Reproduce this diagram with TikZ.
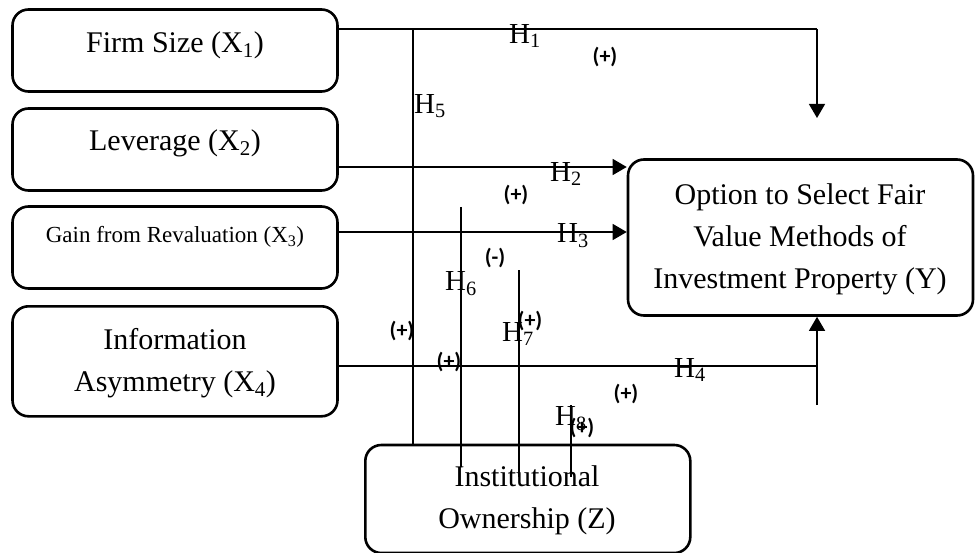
\documentclass[tikz,border=0pt]{standalone}
\usepackage{fontspec}
\setmainfont{Liberation Serif}
\newfontfamily\signfont{Carlito}
\usetikzlibrary{arrows.meta}
\tikzset{
  box/.style={draw, line width=2.6pt, rounded corners=16pt, inner sep=0pt},
  txt/.style={inner sep=0pt, align=center, font=\fontsize{30}{42}\selectfont},
  smalltxt/.style={inner sep=0pt, align=center, font=\fontsize{23}{30}\selectfont},
  hlab/.style={inner sep=0pt, font=\fontsize{29}{34}\selectfont},
  sign/.style={inner sep=0pt, font=\signfont\bfseries\fontsize{22}{24}\selectfont},
  conn/.style={line width=1.3pt},
  arr/.style={conn, -{Triangle[length=14pt,width=16pt]}}
}
\begin{document}
\begin{tikzpicture}[x=1pt,y=-1pt]
\useasboundingbox (0,0) rectangle (976,553);
% boxes
\node[box, minimum width=325pt, minimum height=82pt] (x1) at (175,50.5) {};
\node[box, minimum width=325pt, minimum height=82pt] (x2) at (175,149.5) {};
\node[box, minimum width=325pt, minimum height=82pt] (x3) at (175,247.5) {};
\node[box, minimum width=325pt, minimum height=110pt] (x4) at (175,361.3) {};
\node[box, minimum width=345pt, minimum height=156pt] (y) at (800.5,237.5) {};
\node[box, minimum width=325pt, minimum height=108pt] (z) at (527.8,499) {};
% box texts
\node[txt] (x1t) at (175,45) {Firm Size (X\textsubscript{1})};
\node[txt] (x2t) at (175,143) {Leverage (X\textsubscript{2})};
\node[smalltxt] (x3t) at (175,237) {Gain from Revaluation (X\textsubscript{3})};
\node[txt] (x4t) at (175,363) {Information\\Asymmetry (X\textsubscript{4})};
\node[txt] (yt) at (800,239) {Option to Select Fair\\Value Methods of\\Investment Property (Y)};
\node[txt] (zt) at (527,500) {Institutional\\Ownership (Z)};
% coordinates
\coordinate (h1corner) at (817,29);
\coordinate (h1end) at (817,118);
\coordinate (h5top) at (413,29);
\coordinate (h4corner) at (817,366);
\coordinate (h4low) at (817,405);
\coordinate (h6top) at (461,207);
\coordinate (h6bot) at (461,467);
\coordinate (h7top) at (519,270);
\coordinate (h7bot) at (519,477);
\coordinate (h8top) at (571,405);
\coordinate (h8bot) at (571,477);
% connectors
\draw[conn] (x1.east |- h1corner) -- (h1corner);
\draw[arr] (h1corner) -- (h1end);
\draw[conn] (h5top) -- (z.north -| h5top);
\draw[arr] (x2.east |- 0,167) -- (y.west |- 0,167);
\draw[arr] (x3.east |- 0,232) -- (y.west |- 0,232);
\draw[conn] (x4.east |- h4corner) -- (h4corner);
\draw[arr] (h4low) -- (y.south -| h4low);
\draw[conn] (h6top) -- (h6bot);
\draw[conn] (h7top) -- (h7bot);
\draw[conn] (h8top) -- (h8bot);
% hypothesis labels
\node[hlab] (lh1) at (525,36) {H\textsubscript{1}};
\node[hlab] (lh2) at (566,174) {H\textsubscript{2}};
\node[hlab] (lh3) at (573,236) {H\textsubscript{3}};
\node[hlab] (lh4) at (690,370) {H\textsubscript{4}};
\node[hlab, anchor=west] (lh5) at (414,106) {H\textsubscript{5}};
\node[hlab] (lh6) at (461,284) {H\textsubscript{6}};
\node[hlab] (lh7) at (518,334) {H\textsubscript{7}};
\node[hlab] (lh8) at (571,419) {H\textsubscript{8}};
% signs
\node[sign] (s1) at (605,57) {(+)};
\node[sign] (s2) at (516,195) {(+)};
\node[sign] (s3) at (495,258) {(-)};
\node[sign] (s5) at (402,331) {(+)};
\node[sign] (s6) at (449,362) {(+)};
\node[sign] (s7) at (530,321) {(+)};
\node[sign] (s4) at (626,394) {(+)};
\node[sign] (s8) at (582,428) {(+)};
\end{tikzpicture}
\end{document}
